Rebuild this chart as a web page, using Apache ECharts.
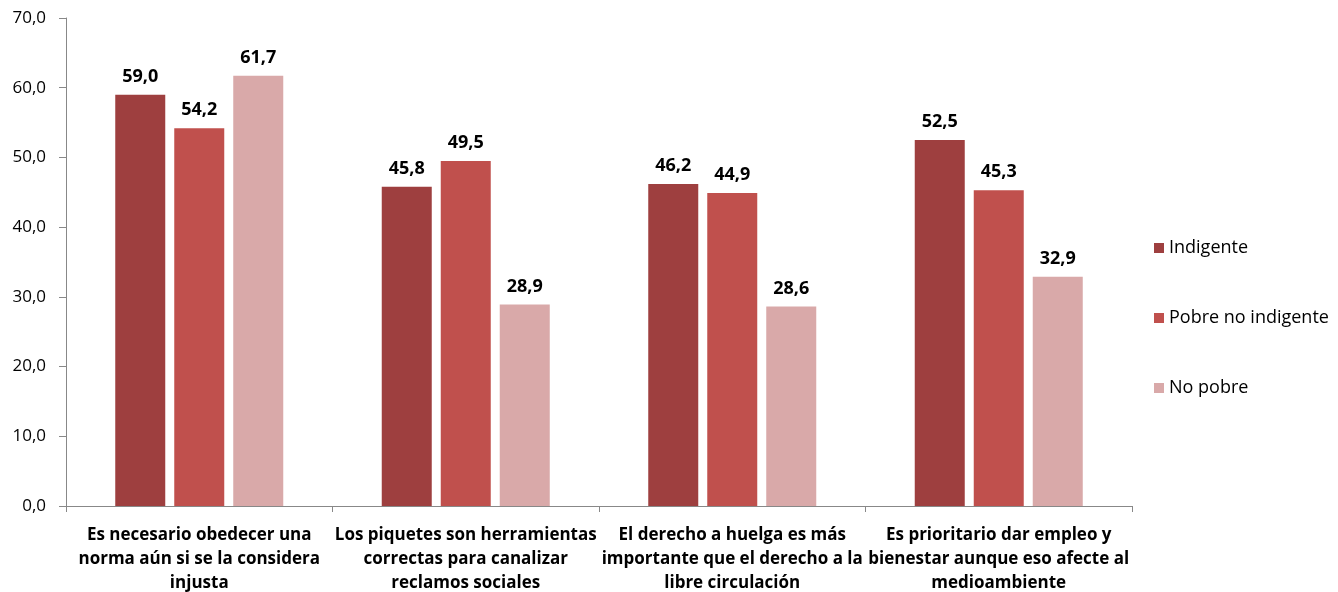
<!DOCTYPE html>
<html><head><meta charset="utf-8">
<script src="https://cdn.jsdelivr.net/npm/echarts@6/dist/echarts.min.js"></script>
<style>html,body{margin:0;padding:0;background:#fff}#c{width:1338px;height:592px}</style>
</head><body><div id="c"></div>
<script>
var categories = [
  "Es necesario obedecer una\nnorma aún si se la considera\ninjusta",
  "Los piquetes son herramientas\ncorrectas para canalizar\nreclamos sociales",
  "El derecho a huelga es más\nimportante que el derecho a la\nlibre circulación",
  "Es prioritario dar empleo y\nbienestar aunque eso afecte al\nmedioambiente"
];
var seriesNames = ["Indigente", "Pobre no indigente", "No pobre"];
var indigente = [59.0, 45.8, 46.2, 52.5];
var pobreNoIndigente = [54.2, 49.5, 44.9, 45.3];
var noPobre = [61.7, 28.9, 28.6, 32.9];
var colors = ["#9E3F3F", "#C0504D", "#D9A9A9"];
var FONT = "Open Sans";
var fmt = function (v) { return v.toFixed(1).replace('.', ','); };
function mk(name, data, color) {
  return {
    name: name, type: 'bar', data: data, barWidth: 50, barGap: '18%',
    itemStyle: { color: color },
    label: { show: true, position: 'top', distance: 9, fontFamily: FONT, fontWeight: 'bold', fontSize: 18, color: '#000',
      formatter: function (p) { return fmt(p.value); } }
  };
}
var chart = echarts.init(document.getElementById('c'));
chart.setOption({
  animation: false,
  textStyle: { fontFamily: FONT },
  grid: { left: 66, right: 206, top: 18, bottom: 86, outerBoundsMode: 'none', containLabel: false },
  legend: {
    orient: 'vertical', left: 1149, top: 234, itemGap: 52, itemWidth: 10, itemHeight: 10,
    icon: 'rect', textStyle: { fontFamily: FONT, fontSize: 18, color: '#000' }, data: seriesNames
  },
  xAxis: {
    type: 'category', data: categories,
    axisLine: { lineStyle: { color: '#888' } },
    axisTick: { show: true, length: 6, lineStyle: { color: '#888' } },
    axisLabel: { interval: 0, margin: 17, fontFamily: FONT, fontWeight: 'bold', fontSize: 17, lineHeight: 24, color: '#000', hideOverlap: false }
  },
  yAxis: {
    type: 'value', min: 0, max: 70, interval: 10,
    axisLine: { show: true, lineStyle: { color: '#888' } },
    axisTick: { show: true, length: 7, lineStyle: { color: '#888' } },
    splitLine: { show: false },
    axisLabel: { margin: 20, fontFamily: FONT, fontSize: 17, color: '#000', formatter: fmt }
  },
  series: [mk(seriesNames[0], indigente, colors[0]), mk(seriesNames[1], pobreNoIndigente, colors[1]), mk(seriesNames[2], noPobre, colors[2])]
});
</script></body></html>
